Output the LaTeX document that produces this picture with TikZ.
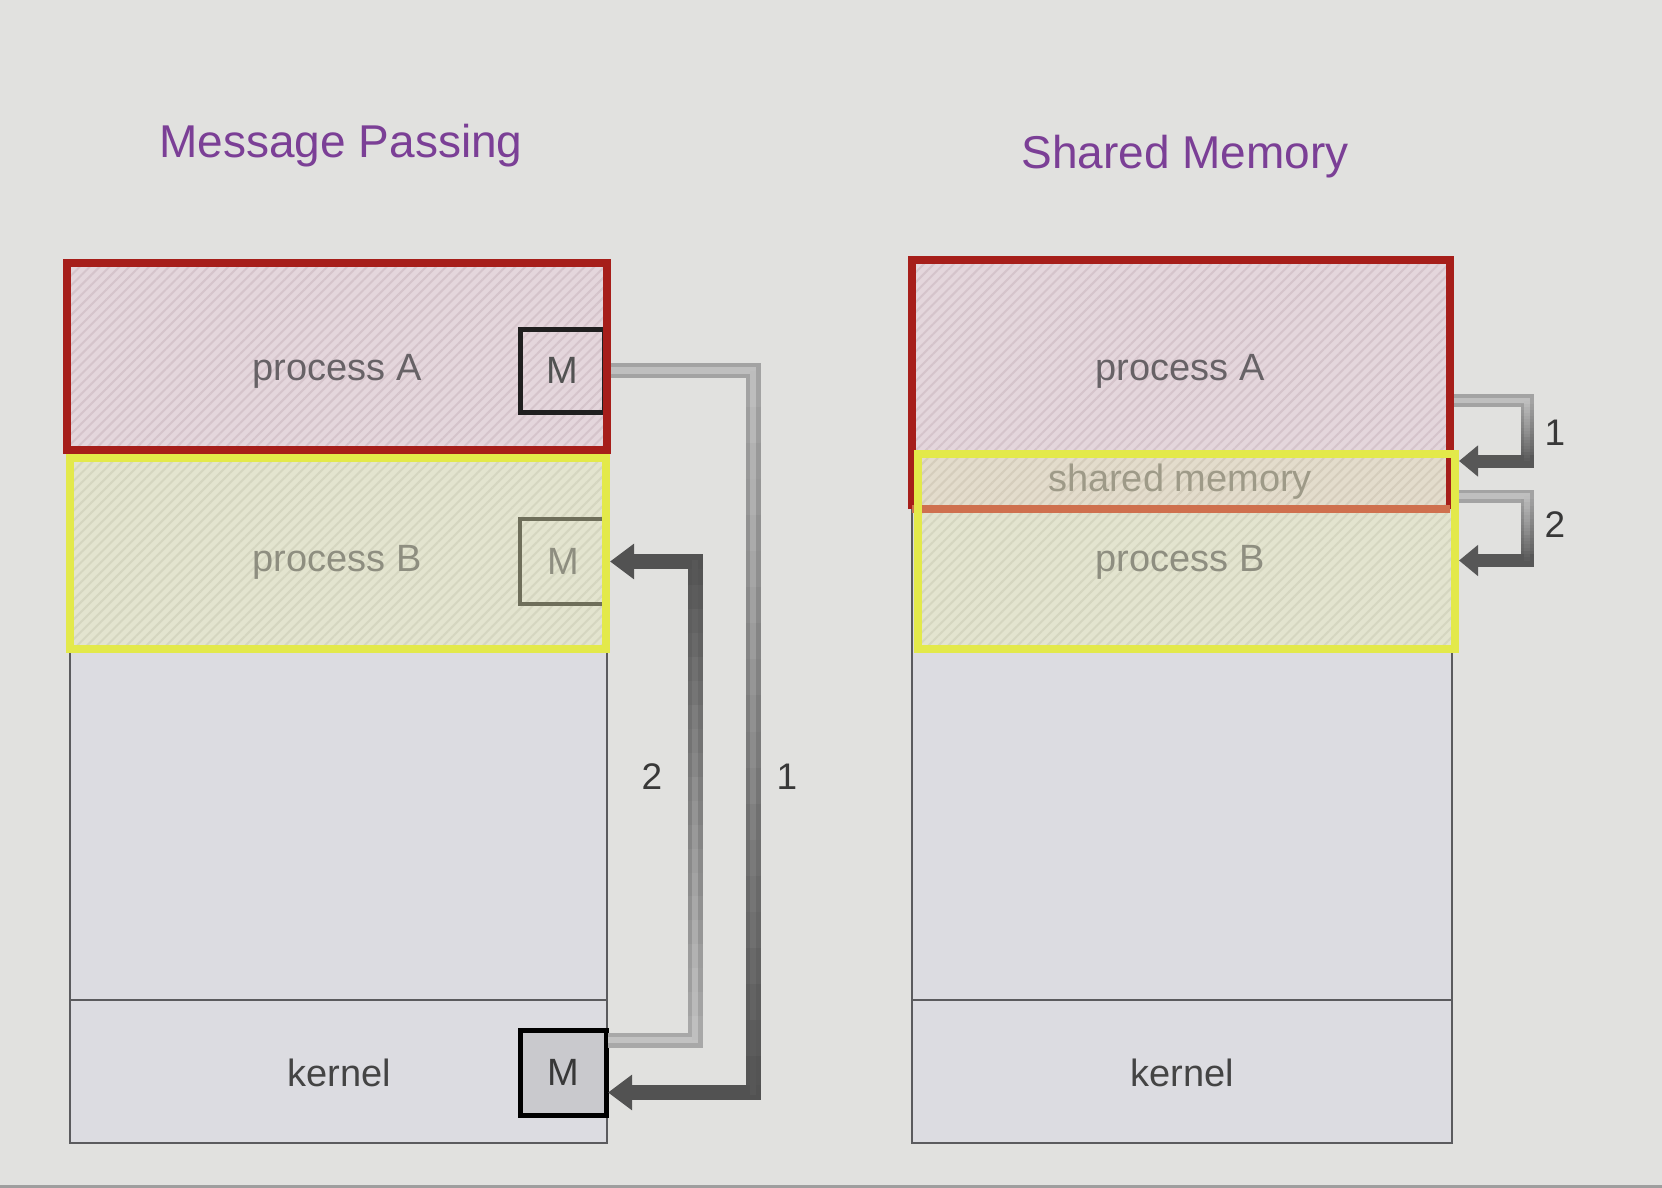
\documentclass[tikz,border=0pt]{standalone}
\usepackage{fontspec}
\setmainfont{Liberation Sans}
\usetikzlibrary{calc,arrows.meta,patterns.meta}
\definecolor{bgc}{HTML}{E1E1DF}
\definecolor{colfill}{HTML}{DCDCE1}
\definecolor{coledge}{HTML}{5B5B5E}
\definecolor{pafillc}{HTML}{E4D6DC}
\definecolor{pahatch}{HTML}{D5C4CB}
\definecolor{pbfillc}{HTML}{E3E4CF}
\definecolor{pbhatch}{HTML}{D5D6C0}
\definecolor{bandfillc}{HTML}{E3DCCC}
\definecolor{bandhatch}{HTML}{D5CDBC}
\definecolor{redc}{HTML}{A61E1A}
\definecolor{yelc}{HTML}{E3E94A}
\definecolor{orangec}{HTML}{CF704E}
\definecolor{titlec}{HTML}{7B3F96}
\definecolor{txA}{HTML}{676266}
\definecolor{txB}{HTML}{8E8E80}
\definecolor{txS}{HTML}{9E9A88}
\definecolor{txK}{HTML}{444444}
\definecolor{mkfill}{HTML}{C9C9CD}
\definecolor{mbedge}{HTML}{6E6E5A}
\tikzset{
  box/.style={rectangle, inner sep=0pt, outer sep=0pt, anchor=north west},
  colbox/.style={box, fill=colfill, draw=coledge, line width=2.5pt},
  pahatched/.style={box, preaction={fill=pafillc}, pattern={Lines[angle=45,distance=7pt,line width=2pt]}, pattern color=pahatch},
  pbhatched/.style={box, preaction={fill=pbfillc}, pattern={Lines[angle=45,distance=7pt,line width=2pt]}, pattern color=pbhatch},
  redborder/.style={draw=redc, line width=8.5pt},
  yelborder/.style={draw=yelc, line width=8pt},
  lab/.style={font=\fontsize{38}{40}\selectfont},
  ttl/.style={font=\fontsize{46}{50}\selectfont, text=titlec},
  mbox/.style={box, minimum width=84pt, minimum height=83pt},
  num/.style={font=\fontsize{37}{40}\selectfont, text=black!78},
}
\newcommand{\ribbon}[9]{%
  % outer layer
  \draw[line width=#7pt, draw=black!#5] (#1) -- ($(#2)+(#7/2,0)$);
  \foreach \i in {0,...,19}{%
    \pgfmathtruncatemacro\cc{#5+(#6-#5)*(\i+0.5)/20}%
    \draw[line width=#7pt, draw=black!\cc] ($(#2)!{\i/20}!(#3)$) -- ($(#2)!{(\i+1.06)/20}!(#3)$);
  }
  \draw[line width=#7pt, draw=black!#6, -{Triangle[length=#8pt,width=#9pt]}] ($(#3)+(#7/2,0)$) -- (#4);
  % inner highlight
  \pgfmathsetmacro\hw{#7*0.45}%
  \pgfmathtruncatemacro\hc{#5*0.72}%
  \draw[line width=\hw pt, draw=black!\hc] (#1) -- ($(#2)+(\hw/2,0)$);
  \foreach \i in {0,...,19}{%
    \pgfmathsetmacro\tt{(\i+0.5)/20}%
    \pgfmathtruncatemacro\cc{(#5+(#6-#5)*\tt)*(0.72+0.28*\tt)}%
    \draw[line width=\hw pt, draw=black!\cc] ($(#2)!{\i/20}!(#3)$) -- ($(#2)!{(\i+1.06)/20}!(#3)$);
  }
}
\begin{document}
\begin{tikzpicture}[x=1pt,y=-1pt]
\useasboundingbox (0,0) rectangle (1662,1188);
\fill[bgc] (0,0) rectangle (1662,1188);
\draw[black!38, line width=3pt] (0,1186.5) -- (1662,1186.5);

% titles
\node[ttl] (tMP) at (341,146) {Message Passing};
\node[ttl] (tSM) at (1185,157) {Shared Memory};

% ---------- left column: message passing ----------
\node[colbox, minimum width=537pt, minimum height=880pt] (LC) at (70,263) {};
\node[colbox, minimum width=537pt, minimum height=143pt] (LK) at (70,1000) {};
\node[pbhatched, minimum width=536pt, minimum height=191pt] (LB) at (70,458) {};
\node[pahatched, minimum width=540pt, minimum height=187pt] (LA) at (67,263) {};
\node[mbox, draw=black!88, line width=5pt] (MA) at (520,329) {};
\node[mbox, minimum width=86pt, minimum height=85pt, draw=mbedge, line width=4pt] (MB) at (520,519) {};
\draw[yelborder] (LB.north west) rectangle (LB.south east);
\draw[redborder] (LA.north west) rectangle (LA.south east);
\node[mbox, minimum width=86pt, minimum height=85pt, fill=mkfill, draw=black, line width=5pt] (MK) at (520,1030) {};

\node[lab, text=txA] (tLA) at (337,371) {process A};
\node[lab, text=txB] (tLB) at (337,562) {process B};
\node[lab, text=txK] (tLK) at (339,1073) {kernel};
\node[lab, text=black!68] (tMA) at (MA.center) {M};
\node[lab, text=txB] (tMB) at (MB.center) {M};
\node[lab, text=black!78] (tMK) at (MK.center) {M};

% left arrows
\coordinate (a1s) at ($(MA.east)+(7,0)$);
\coordinate (a1e) at ($(MK.east)+(2,20)$);
\coordinate (a1x) at (753,0);
\coordinate (a1p) at (a1s -| a1x);
\coordinate (a1q) at (a1e -| a1x);
\ribbon{a1s}{a1p}{a1q}{a1e}{36}{68}{15}{24}{34}

\coordinate (a2s) at ($(MK.north east)+(2,10)$);
\coordinate (a2e) at ($(MB.east)+(4,0)$);
\coordinate (a2x) at (695,0);
\coordinate (a2p) at (a2s -| a2x);
\coordinate (a2q) at (a2e -| a2x);
\ribbon{a2s}{a2p}{a2q}{a2e}{34}{68}{15}{24}{34}

\node[num] (n2L) at (652,777) {2};
\node[num] (n1L) at (787,777) {1};

% ---------- right column: shared memory ----------
\node[colbox, minimum width=540pt, minimum height=883pt] (RC) at (912,260) {};
\node[colbox, minimum width=540pt, minimum height=143pt] (RK) at (912,1000) {};
\node[pbhatched, minimum width=537pt, minimum height=195pt] (RB) at (918,454) {};
\node[pahatched, minimum width=538pt, minimum height=249pt] (RA) at (912,260) {};
\fill[bandfillc] (922,458) rectangle (1446,505);
\fill[pattern={Lines[angle=45,distance=7pt,line width=2pt]}, pattern color=bandhatch] (922,458) rectangle (1446,505);
\draw[redborder] (RA.south west) -- (RA.north west) -- (RA.north east) -- (RA.south east);
\draw[draw=orangec, line width=8pt] (RA.south west) -- (RA.south east);
\draw[yelborder] (RB.north west) rectangle (RB.south east);

\node[lab, text=txA] (tRA) at (1180,371) {process A};
\node[lab, text=txS] (tRS) at (1180,482) {shared memory};
\node[lab, text=txB] (tRB) at (1180,562) {process B};
\node[lab, text=txK] (tRK) at (1182,1073) {kernel};

% right arrows
\coordinate (r1s) at ($(RA.east)+(4,16)$);
\coordinate (r1e) at ($(RB.north east)+(4,7)$);
\coordinate (r1x) at (1527,0);
\coordinate (r1p) at (r1s -| r1x);
\coordinate (r1q) at (r1e -| r1x);
\ribbon{r1s}{r1p}{r1q}{r1e}{36}{66}{13}{19}{30}

\coordinate (r2s) at ($(RB.north east)+(4,42)$);
\coordinate (r2e) at ($(RB.east)+(4,9)$);
\coordinate (r2p) at (r2s -| r1x);
\coordinate (r2q) at (r2e -| r1x);
\ribbon{r2s}{r2p}{r2q}{r2e}{36}{66}{13}{19}{30}

\node[num] (n1R) at (1555,433) {1};
\node[num] (n2R) at (1555,525) {2};
\end{tikzpicture}
\end{document}
